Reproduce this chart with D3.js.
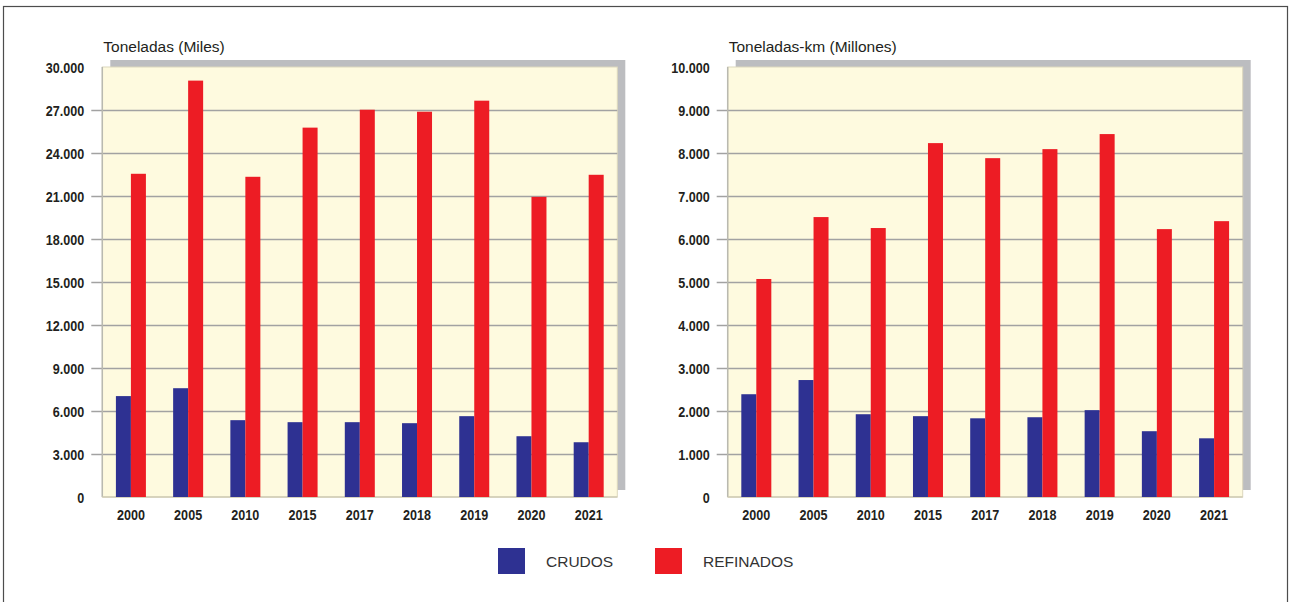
<!DOCTYPE html>
<html>
<head>
<meta charset="utf-8">
<script src="https://cdn.jsdelivr.net/npm/d3@7"></script>
<style>
  body { margin: 0; background: #fff; }
  svg { display: block; }
</style>
</head>
<body>
<script>
// Years shown on both panels
var years = ["2000", "2005", "2010", "2015", "2017", "2018", "2019", "2020", "2021"];

// Left panel: Toneladas (Miles)
var crudosTon = [7040, 7590, 5360, 5220, 5220, 5150, 5640, 4240, 3820];
var refinadosTon = [22550, 29050, 22340, 25770, 27020, 26880, 27650, 20940, 22480];
var ticksTon = [0, 3000, 6000, 9000, 12000, 15000, 18000, 21000, 24000, 27000, 30000];

// Right panel: Toneladas-km (Millones)
var crudosTkm = [2390, 2720, 1925, 1880, 1830, 1855, 2020, 1530, 1365];
var refinadosTkm = [5070, 6510, 6255, 8230, 7880, 8090, 8440, 6230, 6415];
var ticksTkm = [0, 1000, 2000, 3000, 4000, 5000, 6000, 7000, 8000, 9000, 10000];

var seriesNames = ["CRUDOS", "REFINADOS"];
var colors = ["#2e3192", "#ed1c24"];

var width = 1292, height = 602;
var plotTop = 67, plotBottom = 497, plotW = 515;

var svg = d3.select("body").append("svg")
    .attr("width", width)
    .attr("height", height);

// outer frame
svg.append("rect")
    .attr("x", 3.5).attr("y", 6.5)
    .attr("width", 1284).attr("height", 620)
    .attr("fill", "none")
    .attr("stroke", "#4d4d4d")
    .attr("stroke-width", 1.2);

var fmt = d3.formatLocale({ decimal: ",", thousands: ".", grouping: [3], currency: ["", ""] }).format(",d");
var sansFont = "'Liberation Sans', Arial, sans-serif";

// condensed bold labels: regular bold squeezed horizontally
function narrowText(sel, x, y) {
    sel.attr("transform", (d, i) => "translate(" + x(d, i) + "," + y(d, i) + ") scale(0.84,1)")
        .attr("font-family", sansFont)
        .attr("font-weight", "bold")
        .attr("font-size", "15px")
        .attr("fill", "#231f20");
}

function drawPanel(x0, title, ticks, crudos, refinados) {
    var g = svg.append("g");
    var maxV = ticks[ticks.length - 1];

    var xScale = d3.scaleBand().domain(years).range([x0, x0 + plotW]).padding(0);
    var yScale = d3.scaleLinear().domain([0, maxV]).range([plotBottom, plotTop]);

    // drop shadow behind plot area
    g.append("rect")
        .attr("x", x0 + 8).attr("y", plotTop - 7)
        .attr("width", plotW).attr("height", plotBottom - plotTop)
        .attr("fill", "#bcbdc0");

    // plot background
    g.append("rect")
        .attr("x", x0).attr("y", plotTop)
        .attr("width", plotW).attr("height", plotBottom - plotTop)
        .attr("fill", "#fefadf")
        .attr("stroke", "#dcd8bd")
        .attr("stroke-width", 1);

    // gridlines (with the tick stub to the left of the axis)
    g.selectAll(".grid")
        .data(ticks.filter(t => t > 0 && t < maxV))
        .enter().append("line")
        .attr("x1", x0 - 11).attr("x2", x0 + plotW)
        .attr("y1", d => Math.round(yScale(d)) + 0.5)
        .attr("y2", d => Math.round(yScale(d)) + 0.5)
        .attr("stroke", "#a2a2a2")
        .attr("stroke-width", 1.3);

    // axis lines
    g.append("line")
        .attr("x1", x0).attr("x2", x0)
        .attr("y1", plotTop).attr("y2", plotBottom)
        .attr("stroke", "#b9b9b0").attr("stroke-width", 1.5);
    g.append("line")
        .attr("x1", x0).attr("x2", x0 + plotW)
        .attr("y1", plotBottom).attr("y2", plotBottom)
        .attr("stroke", "#cfcbb5").attr("stroke-width", 1.5);

    // y tick labels
    g.selectAll(".ylab")
        .data(ticks)
        .enter().append("text")
        .attr("text-anchor", "end")
        .text(d => fmt(d))
        .call(narrowText, () => x0 - 18, d => yScale(d) + 5.5);

    // x labels
    g.selectAll(".xlab")
        .data(years)
        .enter().append("text")
        .attr("text-anchor", "middle")
        .text(d => d)
        .call(narrowText, d => xScale(d) + xScale.bandwidth() / 2, () => 520);

    // bars
    var barW = 15;
    g.selectAll(".crudos")
        .data(crudos)
        .enter().append("rect")
        .attr("x", (d, i) => xScale(years[i]) + xScale.bandwidth() / 2 - barW)
        .attr("y", d => yScale(d))
        .attr("width", barW)
        .attr("height", d => plotBottom - yScale(d))
        .attr("fill", colors[0]);
    g.selectAll(".refinados")
        .data(refinados)
        .enter().append("rect")
        .attr("x", (d, i) => xScale(years[i]) + xScale.bandwidth() / 2)
        .attr("y", d => yScale(d))
        .attr("width", barW)
        .attr("height", d => plotBottom - yScale(d))
        .attr("fill", colors[1]);

    // unit title
    g.append("text")
        .attr("x", x0 + 1)
        .attr("y", 51.5)
        .attr("font-family", sansFont)
        .attr("font-size", "15.5px")
        .attr("fill", "#231f20")
        .text(title);
}

drawPanel(102.3, "Toneladas (Miles)", ticksTon, crudosTon, refinadosTon);
drawPanel(727.7, "Toneladas-km (Millones)", ticksTkm, crudosTkm, refinadosTkm);

// legend
var legendX = [498, 655];
var legend = svg.selectAll(".legend")
    .data(seriesNames)
    .enter().append("g")
    .attr("transform", (d, i) => "translate(" + legendX[i] + ",548)");
legend.append("rect")
    .attr("width", 27).attr("height", 26)
    .attr("fill", (d, i) => colors[i]);
legend.append("text")
    .attr("x", 48)
    .attr("y", 19)
    .attr("font-family", sansFont)
    .attr("font-size", "15.5px")
    .attr("fill", "#333")
    .text(d => d);
</script>
</body>
</html>
